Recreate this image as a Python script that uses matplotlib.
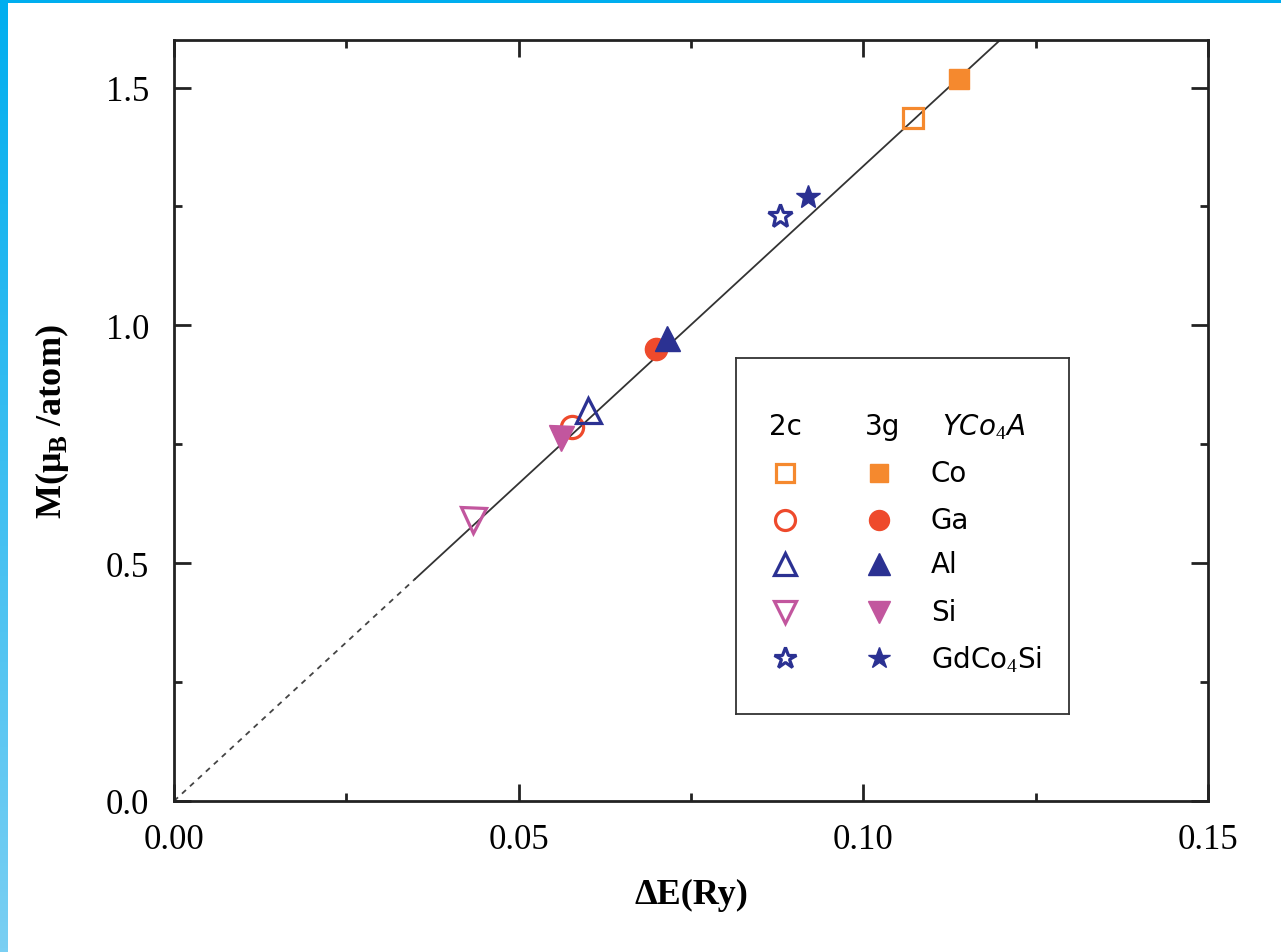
import matplotlib
matplotlib.use("Agg")
import matplotlib.pyplot as plt
import numpy as np
from matplotlib.patches import Rectangle
from matplotlib.ticker import MultipleLocator

plt.rcParams['font.family'] = ['Liberation Serif', 'DejaVu Serif']
plt.rcParams['mathtext.fontset'] = 'custom'
plt.rcParams['mathtext.rm'] = 'Liberation Serif'
plt.rcParams['mathtext.bf'] = 'Liberation Serif:bold'

# data: (dE in Ry, M in muB/atom) for 2c (open) and 3g (filled) substitution
labels = ['Co', 'Ga', 'Al', 'Si', 'GdCo$_4$Si']
markers = ['s', 'o', '^', 'v', '*']
colors = ['#F5892E', '#EE4A2C', '#2B3192', '#C2569E', '#2B3192']
dE_2c = [0.1072, 0.0577, 0.0601, 0.0434, 0.0879]
M_2c = [1.435, 0.786, 0.822, 0.590, 1.231]
dE_3g = [0.1139, 0.0699, 0.0715, 0.0561, 0.0920]
M_3g = [1.519, 0.950, 0.974, 0.763, 1.269]
sizes = [15, 16, 18, 18, 18]

# linear fit through origin
slope = 13.35
x_dash = np.array([0.0, 0.035])
x_solid = np.array([0.035, 0.125])

fig = plt.figure(figsize=(12.81, 9.53), dpi=100)

# blue page border
band = fig.add_axes([0, 0, 8 / 1281, 1])
grad = np.linspace(0, 1, 256).reshape(-1, 1)
band.imshow(grad, aspect='auto', cmap=matplotlib.colors.LinearSegmentedColormap.from_list(
    'b', ['#00AEEF', '#7ACFF3']), extent=[0, 1, 0, 1], origin='upper')
band.axis('off')
fig.add_artist(Rectangle((0, 1 - 4 / 953), 1, 4 / 953, transform=fig.transFigure,
                         color='#00AEEF', lw=0))

ax = fig.add_axes([174 / 1281, 151 / 953, 1034 / 1281, 761 / 953])

ax.plot(x_dash, slope * x_dash, ls=(0, (3, 3)), color='#444444', lw=1.3)
ax.plot(x_solid, slope * x_solid, ls='-', color='#333333', lw=1.3)

for i in range(len(labels)):
    ax.plot(dE_2c[i], M_2c[i], marker=markers[i], ms=sizes[i], mfc='none',
            mec=colors[i], mew=2.3, ls='none')
    ax.plot(dE_3g[i], M_3g[i], marker=markers[i], ms=sizes[i], mfc=colors[i],
            mec=colors[i], mew=1, ls='none')

ax.set_xlim(0, 0.15)
ax.set_ylim(0, 1.6)
ax.xaxis.set_major_locator(MultipleLocator(0.05))
ax.xaxis.set_minor_locator(MultipleLocator(0.025))
ax.yaxis.set_major_locator(MultipleLocator(0.5))
ax.yaxis.set_minor_locator(MultipleLocator(0.25))
ax.xaxis.set_major_formatter(lambda v, p: f'{v:.2f}')
ax.yaxis.set_major_formatter(lambda v, p: f'{v:.1f}')
ax.tick_params(which='both', direction='in', top=True, right=True, width=2,
               labelsize=25, color='#222222')
ax.tick_params(which='major', length=12)
ax.tick_params(which='minor', length=6)
ax.tick_params(axis='x', which='major', pad=16)
ax.tick_params(axis='y', which='major', pad=18)
for s in ax.spines.values():
    s.set_linewidth(2)
    s.set_color('#222222')

ax.set_xlabel('ΔE(Ry)', fontsize=26, fontweight='bold', labelpad=16)
ax.set_ylabel(r'M(μ$_\mathbf{B}$ /atom)', fontsize=26, fontweight='bold', labelpad=25)

# legend box
lg = fig.add_axes([736 / 1281, 238 / 953, 333 / 1281, 356 / 953])
lg.set_xlim(0, 1)
lg.set_ylim(0, 1)
lg.set_xticks([])
lg.set_yticks([])
for s in lg.spines.values():
    s.set_linewidth(1.3)
    s.set_color('#333333')

lfont = dict(family='DejaVu Sans', fontsize=20, va='center')
hy = 0.81
lg.text(0.147, hy, '2c', ha='center', **lfont)
lg.text(0.441, hy, '3g', ha='center', **lfont)
lg.text(0.62, hy, 'YCo$_4$A', ha='left', style='italic', **lfont)
rows = [0.677, 0.545, 0.421, 0.287, 0.157]
for i in range(len(labels)):
    lg.plot(0.147, rows[i], marker=markers[i], ms=sizes[i] * 0.9, mfc='none',
            mec=colors[i], mew=2.3, ls='none')
    lg.plot(0.429, rows[i], marker=markers[i], ms=sizes[i] * 0.9, mfc=colors[i],
            mec=colors[i], ls='none')
    lg.text(0.585, rows[i], labels[i], ha='left', **lfont)

fig.savefig('out.png', dpi=100)
